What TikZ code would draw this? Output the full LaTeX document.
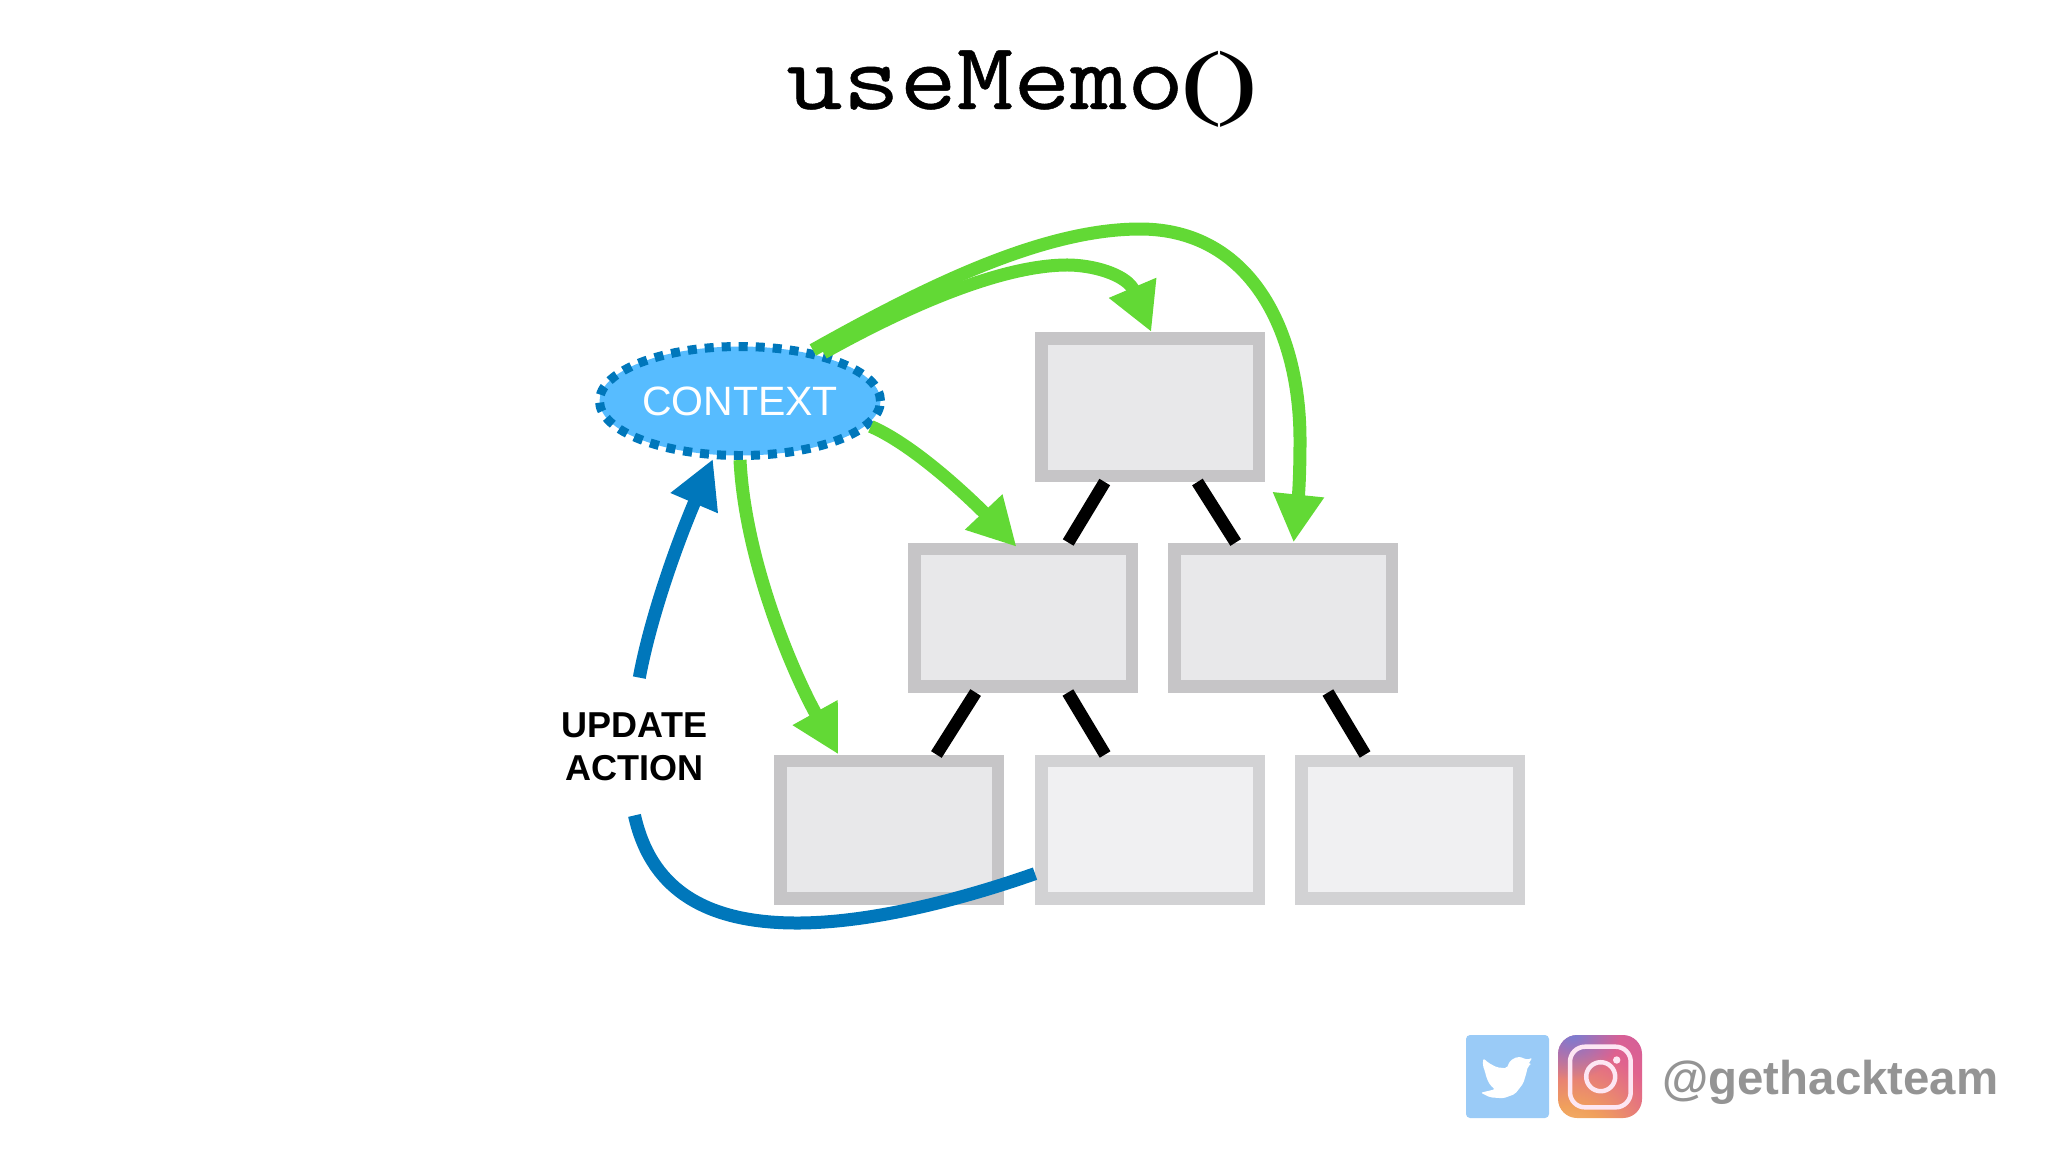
\documentclass[tikz,border=0pt]{standalone}
\usepackage{fontspec}
\setmainfont{Liberation Sans}
\newfontfamily\titlefont{Latin Modern Mono}[FakeBold=0.5,FakeStretch=1.15]
\newfontfamily\parenfont{Liberation Serif}[FakeStretch=1.5]
\usepackage{tikz}
\usetikzlibrary{arrows.meta}
\usetikzlibrary{shapes.geometric}
\usetikzlibrary{fadings}
\definecolor{linegreen}{HTML}{62D935}
\definecolor{lineblue}{HTML}{0077BB}
\definecolor{ctxblue}{HTML}{57BCFF}
\definecolor{handlegray}{HTML}{949494}
\definecolor{birdblue}{HTML}{9ACBF7}
\definecolor{instablue}{HTML}{6A82DC}
\definecolor{boxline}{HTML}{C6C5C7}
\definecolor{boxfill}{HTML}{E8E8EA}
\definecolor{fadedline}{HTML}{D2D2D4}
\definecolor{fadedfill}{HTML}{F0F0F2}
\definecolor{instaa}{HTML}{F6DC8E}
\definecolor{instab}{HTML}{F0A05C}
\definecolor{instac}{HTML}{E0628E}
\definecolor{instad}{HTML}{C45AA8}
\definecolor{instae}{HTML}{A85CC4}
\pgfdeclareradialshading{instaglow}{\pgfpoint{-25bp}{-60bp}}{
color(0bp)=(instaa);
color(30bp)=(instab);
color(55bp)=(instac);
color(85bp)=(instad);
color(115bp)=(instae);
color(150bp)=(instae)}
\tikzfading[name=instacorner, inner color=transparent!10, outer color=transparent!100]
\tikzset{
treebox/.style={draw=boxline, fill=boxfill, line width=6.25pt, minimum width=108.75pt, minimum height=68.75pt},
fadedbox/.style={treebox, draw=fadedline, fill=fadedfill},
treeline/.style={black, line width=6.25pt},
greenarrow/.style={linegreen, line width=6.5pt, -{Triangle[length=24pt,width=24pt]}},
bluearrow/.style={lineblue, line width=6.5pt}
}

\begin{document}
\begin{tikzpicture}[x=0.5pt,y=-0.5pt]
\useasboundingbox (0, 0) rectangle (2048, 1152);
\node [anchor=base] (title) at (1022, 109) {\titlefont\fontsize{48}{48}\selectfont useMemo\kern-2pt{\parenfont\fontsize{42}{42}\selectfont (\kern-3pt)}};
\node [treebox] (boxtop) at (1150, 407) {};
\node [treebox] (boxleft) at (1023, 617.5) {};
\node [treebox] (boxright) at (1283, 617.5) {};
\node [treebox] (boxbotleft) at (889, 829.5) {};
\node [fadedbox] (boxbotmid) at (1150, 829.5) {};
\node [fadedbox] (boxbotright) at (1410, 829.5) {};
\draw [treeline] (boxtop) -- (boxleft);
\draw [treeline] (boxtop) -- (boxright);
\draw [treeline] (boxleft) -- (boxbotleft);
\draw [treeline] (boxleft) -- (boxbotmid);
\draw [treeline] (boxright) -- (boxbotright);
\node [ellipse, inner sep=0pt, fill=ctxblue, draw=lineblue, line width=4.5pt, dash pattern=on 4.5pt off 4pt, minimum width=140.5pt, minimum height=54.5pt, text=white, font=\fontsize{20.5}{24}\selectfont] (ctx) at (740, 401) {CONTEXT};
\node [align=center, minimum height=68.5pt, font=\fontsize{18}{21.7}\selectfont\bfseries] (updact) at (634.5, 746.5) {UPDATE\\ACTION};
\draw [greenarrow] (ctx.35) .. controls (920, 290) and (1040, 229) .. (1140, 229) .. controls (1250, 229) and (1300, 330) .. (1300, 440) .. controls (1300, 470) and (1299, 490) .. (boxright.82);
\draw [greenarrow] (ctx.30) .. controls (900, 310) and (1000, 264) .. (1070, 265) .. controls (1100, 266) and (1128, 277) .. (boxtop.89);
\draw [greenarrow, shorten >=-3pt] (ctx.-11) .. controls (925, 450) and (995, 524) .. (boxleft.98);
\draw [greenarrow] (ctx.south) .. controls (745, 560) and (792, 671) .. (boxbotleft.124);
\draw [bluearrow, -{Triangle[length=24pt,width=24pt]}] (updact.86) .. controls (650, 620) and (675, 548) .. (ctx.245);
\draw [bluearrow] (boxbotmid.201) .. controls (960, 900) and (870, 923) .. (797, 923) .. controls (700, 923) and (650, 885) .. (updact.south);
\fill [birdblue, rounded corners=2pt] (1466, 1035) rectangle (1549, 1118);
\fill [white, rounded corners=1pt] (1517.3, 1056.7) -- (1510, 1060.7) -- (1506.7, 1068.3) -- (1496.7, 1067.3) -- (1488.3, 1062.7) -- (1483.3, 1058.3) -- (1482.7, 1065) -- (1485, 1071.7) -- (1486.7, 1078.3) -- (1490, 1085) -- (1495, 1089.3) -- (1480.7, 1092.7) -- (1490, 1097.3) -- (1503.3, 1098.3) -- (1515, 1094) -- (1523.3, 1083.3) -- (1526.7, 1071.7) -- (1527.7, 1066.7) -- (1531.7, 1063.3) -- (1528.3, 1064) -- (1532.3, 1057.7) -- (1526.7, 1060) -- (1523.3, 1057.7) -- cycle;
\shade [shading=instaglow, rounded corners=9.5pt] (1558, 1035) rectangle (1642, 1118);
\begin{scope}
\clip [rounded corners=9.5pt] (1558, 1035) rectangle (1642, 1118);
\fill [instablue, path fading=instacorner] (1572, 1032) circle (48);
\end{scope}
\draw [white!90!magenta, line width=2.25pt, rounded corners=7.5pt] (1570, 1046.7) rectangle (1630.7, 1107.3);
\draw [white!90!magenta, line width=2.25pt] (1600.7, 1076.7) circle (14.5);
\fill [white!90!magenta] (1616.7, 1060) circle (3.7);
\node [anchor=base west, inner sep=0pt, text=handlegray, font=\fontsize{23.7}{28}\selectfont\bfseries] (handle) at (1662, 1094) {@gethackteam};
\end{tikzpicture}
\end{document}
